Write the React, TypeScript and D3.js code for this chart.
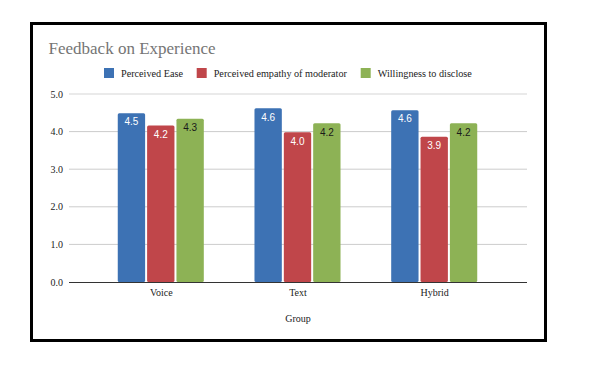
import { useEffect, useRef } from "react";
import * as d3 from "d3";

const GROUPS = ["Voice", "Text", "Hybrid"];
const SERIES = ["Perceived Ease", "Perceived empathy of moderator", "Willingness to disclose"];
const EASE = [4.49, 4.62, 4.57];
const EMPATHY = [4.16, 3.98, 3.86];
const DISCLOSE = [4.34, 4.22, 4.22];
const Y_TICKS = [0, 1, 2, 3, 4, 5];

const COLORS = ["#3d72b4", "#c0464a", "#8db255"];
const LABEL_COLORS = ["#ffffff", "#ffffff", "#1a1a1a"];

export default function App() {
  const ref = useRef<SVGSVGElement>(null);

  useEffect(() => {
    if (!ref.current) return;
    const svg = d3.select(ref.current);
    svg.selectAll("*").remove();

    const W = 611, H = 366;
    const serif = "Liberation Serif, Times New Roman, Times, DejaVu Serif, serif";
    const sans = "Liberation Sans, Arial, sans-serif";
    const values = [EASE, EMPATHY, DISCLOSE];

    // frame
    svg.append("rect")
      .attr("x", 31.5).attr("y", 23.5)
      .attr("width", 514).attr("height", 317)
      .attr("fill", "#fff").attr("stroke", "#000").attr("stroke-width", 3);

    // title
    svg.append("text")
      .attr("x", 48.5).attr("y", 54)
      .style("font-family", serif).attr("font-size", "17px")
      .attr("fill", "#757575")
      .text("Feedback on Experience");

    const plot = { left: 69, right: 527, top: 94, bottom: 282 };

    const x0 = d3.scaleBand<string>().domain(GROUPS)
      .range([plot.left, plot.right]).paddingInner(0.356).paddingOuter(0.353);
    const x1 = d3.scaleBand<number>().domain([0, 1, 2])
      .range([0, x0.bandwidth()]).padding(0);
    const y = d3.scaleLinear().domain([0, 5]).range([plot.bottom, plot.top]);

    // legend
    const legendX = [104, 196.7, 360.7];
    SERIES.forEach((s, i) => {
      svg.append("rect")
        .attr("x", legendX[i]).attr("y", 68)
        .attr("width", 10).attr("height", 10)
        .attr("fill", COLORS[i]);
      svg.append("text")
        .attr("x", legendX[i] + 17).attr("y", 77)
        .style("font-family", serif).attr("font-size", "10.2px")
        .attr("fill", "#222")
        .text(s);
    });

    // grid
    svg.append("g").selectAll("line")
      .data(Y_TICKS.filter(d => d > 0))
      .enter().append("line")
      .attr("x1", plot.left).attr("x2", plot.right)
      .attr("y1", d => y(d)).attr("y2", d => y(d))
      .attr("stroke", d => d === 5 ? "#e3e3e3" : "#cccccc")
      .attr("stroke-width", d => d === 5 ? 1.5 : 1);

    svg.append("g").selectAll("text")
      .data(Y_TICKS)
      .enter().append("text")
      .attr("x", 63).attr("y", d => y(d) + 3.5)
      .attr("text-anchor", "end")
      .style("font-family", serif).attr("font-size", "10px")
      .attr("fill", "#222")
      .text(d => d.toFixed(1));

    // bars
    GROUPS.forEach((g, gi) => {
      values.forEach((vals, si) => {
        const v = vals[gi];
        const bx = (x0(g) ?? 0) + (x1(si) ?? 0);
        const bw = x1.bandwidth();
        svg.append("rect")
          .attr("x", bx + 0.5).attr("y", y(v))
          .attr("width", bw - 2).attr("height", y(0) - y(v))
          .attr("rx", 1.5)
          .attr("fill", COLORS[si]);
        svg.append("text")
          .attr("x", bx + bw / 2 - 0.5).attr("y", y(v) + 12.3)
          .attr("text-anchor", "middle")
          .style("font-family", sans).attr("font-size", "10px")
          .attr("fill", LABEL_COLORS[si])
          .text(v.toFixed(1));
      });
    });

    // baseline
    svg.append("line")
      .attr("x1", plot.left).attr("x2", plot.right)
      .attr("y1", y(0) + 0.5).attr("y2", y(0) + 0.5)
      .attr("stroke", "#333").attr("stroke-width", 1);

    // x labels
    svg.append("g").selectAll("text")
      .data(GROUPS)
      .enter().append("text")
      .attr("x", d => (x0(d) ?? 0) + x0.bandwidth() / 2)
      .attr("y", 296)
      .attr("text-anchor", "middle")
      .style("font-family", serif).attr("font-size", "10px")
      .attr("fill", "#222")
      .text(d => d);

    svg.append("text")
      .attr("x", (plot.left + plot.right) / 2).attr("y", 321.5)
      .attr("text-anchor", "middle")
      .style("font-family", serif).attr("font-size", "10px")
      .attr("fill", "#222")
      .text("Group");

    svg.attr("width", W).attr("height", H);
  }, []);

  return (
    <svg ref={ref} width={611} height={366}
      style={{ position: "absolute", left: 0, top: 0, display: "block", background: "#fff" }} />
  );
}
